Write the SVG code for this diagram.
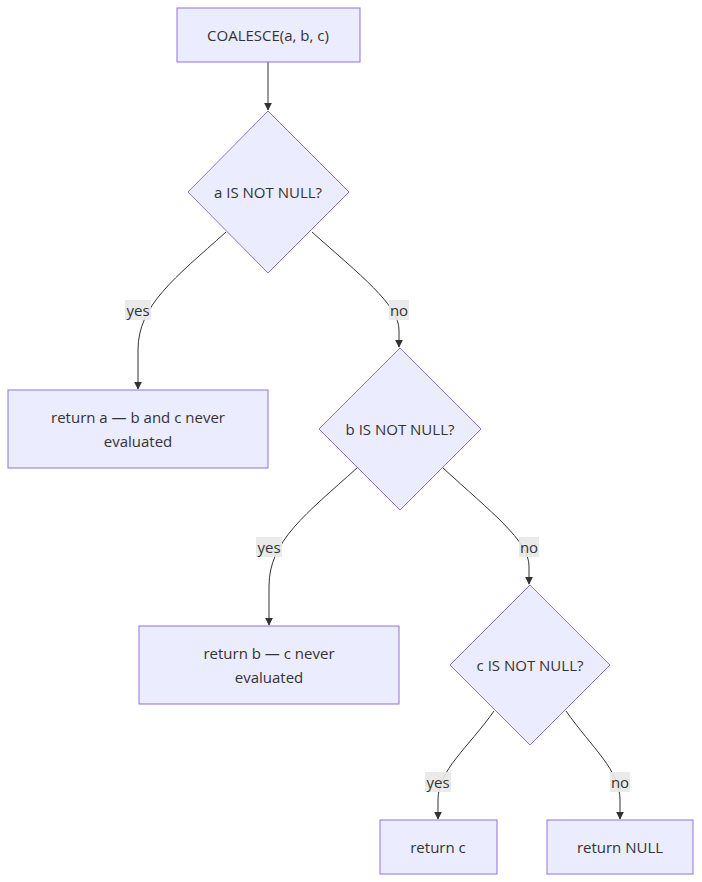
<svg xmlns="http://www.w3.org/2000/svg" width="702" height="882" viewBox="0 0 702 882">
<style>
.n{fill:#ECECFF;stroke:#9370DB;stroke-width:1}
.t{font-family:"Open Sans","DejaVu Sans",sans-serif;font-size:15px;fill:#333;text-anchor:middle;dominant-baseline:central}
.e{fill:none;stroke:#333;stroke-width:1}
.lb{fill:#E8E8E8;opacity:0.9}
</style>
<defs><marker id="ar" viewBox="0 0 10 10" refX="9" refY="5" markerWidth="8" markerHeight="8" orient="auto"><path d="M0,0 L10,5 L0,10 z" fill="#333"/></marker></defs>
<rect width="702" height="882" fill="#fff"/>
<g id="edges">
<path class="e" marker-end="url(#ar)" d="M268,62 L268,110"/>
<path class="e" marker-end="url(#ar)" d="M226,232 C175,278 138,305 138,350 L138,389"/>
<path class="e" marker-end="url(#ar)" d="M312,232 C360,275 399,305 399,330 L399,347"/>
<path class="e" marker-end="url(#ar)" d="M357,468 C306,514 269,541 269,586 L269,625"/>
<path class="e" marker-end="url(#ar)" d="M443,468 C491,512 529,541 529,566 L529,584"/>
<path class="e" marker-end="url(#ar)" d="M494,711 C468,748 438,770 438,800 L438,819"/>
<path class="e" marker-end="url(#ar)" d="M566,711 C592,748 620,770 620,800 L620,819"/>
<rect class="lb" x="125" y="300" width="26" height="20"/><text class="t" x="138" y="310">yes</text>
<rect class="lb" x="389" y="300" width="20" height="20"/><text class="t" x="399" y="310">no</text>
<rect class="lb" x="256" y="537" width="26" height="20"/><text class="t" x="269" y="547">yes</text>
<rect class="lb" x="519" y="537" width="20" height="20"/><text class="t" x="529" y="547">no</text>
<rect class="lb" x="425" y="772" width="26" height="20"/><text class="t" x="438" y="782">yes</text>
<rect class="lb" x="610" y="772" width="20" height="20"/><text class="t" x="620" y="782">no</text>
</g>
<g id="start"><rect class="n" x="177" y="8" width="183" height="54"/><text class="t" x="268" y="35">COALESCE(a, b, c)</text></g>
<g id="checkA"><polygon class="n" points="268,111 349,192 268,273 188,192"/><text class="t" x="268" y="192">a IS NOT NULL?</text></g>
<g id="retA"><rect class="n" x="8" y="390" width="260" height="78"/><text class="t" x="138" y="417">return a — b and c never</text><text class="t" x="138" y="441">evaluated</text></g>
<g id="checkB"><polygon class="n" points="400,348 481,429 400,510 319,429"/><text class="t" x="400" y="429">b IS NOT NULL?</text></g>
<g id="retB"><rect class="n" x="139" y="626" width="260" height="78"/><text class="t" x="269" y="653">return b — c never</text><text class="t" x="269" y="677">evaluated</text></g>
<g id="checkC"><polygon class="n" points="530,585 610,665 530,745 450,665"/><text class="t" x="530" y="665">c IS NOT NULL?</text></g>
<g id="retC"><rect class="n" x="380" y="820" width="117" height="54"/><text class="t" x="438" y="847">return c</text></g>
<g id="retNull"><rect class="n" x="547" y="820" width="146" height="54"/><text class="t" x="620" y="847">return NULL</text></g>
</svg>
